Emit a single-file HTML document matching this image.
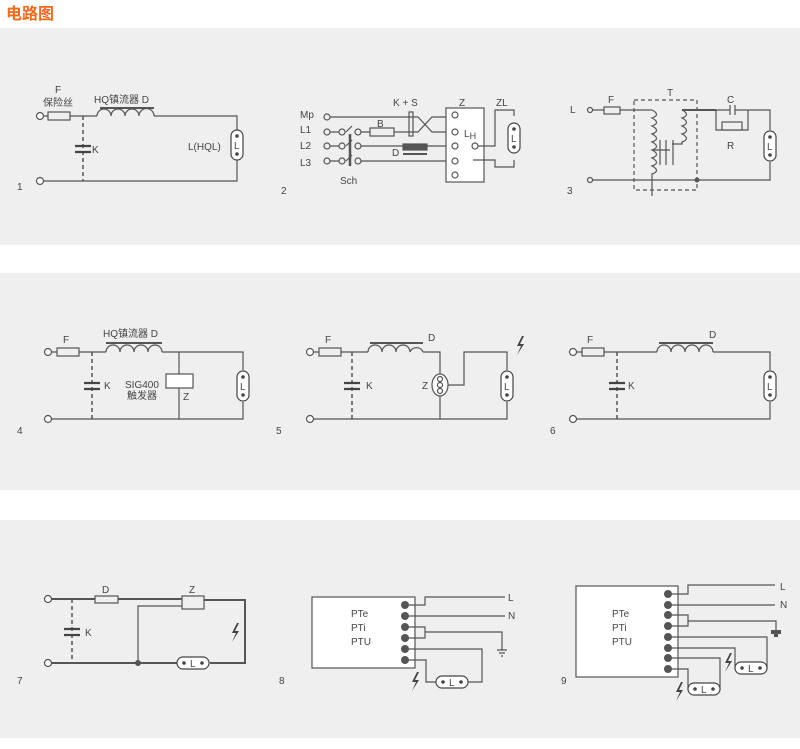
<!DOCTYPE html>
<html><head><meta charset="utf-8"><style>
body{margin:0;width:800px;height:749px;background:#fff;overflow:hidden}
svg{display:block}
text{font-family:"Liberation Sans","Noto Sans CJK SC",sans-serif;fill:#444;font-size:10px}
</style></head><body>
<svg width="800" height="749" viewBox="0 0 800 749" xmlns="http://www.w3.org/2000/svg">
<defs>
<g id="lampv"><rect x="-6" y="-15" width="12" height="30" rx="6" fill="#fff" stroke="#444" stroke-width="1.2"/><circle cx="0" cy="-9" r="1.8" fill="#444"/><circle cx="0" cy="9" r="1.8" fill="#444"/><text x="-3" y="4" font-size="10">L</text></g>
<g id="lamph"><rect x="-16" y="-6" width="32" height="12" rx="6" fill="#fff" stroke="#444" stroke-width="1.2"/><circle cx="-9" cy="0" r="1.8" fill="#444"/><circle cx="9" cy="0" r="1.8" fill="#444"/><text x="-3" y="4" font-size="10">L</text></g>
<g id="bolt"><path d="M2,-9 L-3,1 L1,1 L-3,10 L4,-1 L0,-1 L4,-9Z" fill="#444"/></g>
<g id="cap"><path d="M-8,-3 H8 M-8,3 H8" stroke="#444" stroke-width="2.2"/></g>
</defs>
<text x="6" y="19" style="fill:#f26a1b;font-size:16px;font-weight:bold">电路图</text>
<rect x="0" y="28" width="800" height="217" fill="#efefef"/>
<rect x="0" y="273" width="800" height="217" fill="#efefef"/>
<rect x="0" y="520" width="800" height="218" fill="#efefef"/>
<g fill="none" stroke="#555" stroke-width="1.2">
<circle cx="40" cy="116" r="3.5" fill="#fff"/><circle cx="40" cy="181" r="3.5" fill="#fff"/>
<rect x="48" y="112" width="22" height="8"/>
<path d="M44,116H48M70,116H97M154,116H237V130M237,160V181H44"/>
<path d="M97,116a7,7 0 0 1 14,0a7,7 0 0 1 14,0a7,7 0 0 1 14,0a7,7 0 0 1 15,0"/>
<path d="M100,108H154" stroke-width="2"/>
<path d="M83,116V181" stroke-dasharray="4,3" stroke-width="1.5"/>
<circle cx="327" cy="117" r="3"/><circle cx="327" cy="132" r="3"/><circle cx="342" cy="132" r="3"/><circle cx="358" cy="132" r="3"/>
<circle cx="327" cy="146" r="3"/><circle cx="342" cy="146" r="3"/><circle cx="358" cy="146" r="3"/>
<circle cx="327" cy="161" r="3"/><circle cx="342" cy="161" r="3"/><circle cx="358" cy="161" r="3"/>
<path d="M330,132H339M330,146H339M330,161H339"/>
<path d="M346,132L352,126M346,146L352,140M346,161L352,155" />
<path d="M350,134V166" stroke-width="2.5"/>
<path d="M330,117H418L432,132H452M361,132H370M394,132H418L432,117H452M361,146H452M361,161H452"/>
<rect x="370" y="128" width="24" height="8"/>
<rect x="409" y="112" width="4" height="24"/>
<rect x="403" y="144" width="24" height="6" fill="#555"/><path d="M403,154H427" stroke-width="2"/>
<rect x="446" y="108" width="38" height="74" fill="#fff"/>
<circle cx="455" cy="115" r="3"/><circle cx="455" cy="132" r="3"/><circle cx="455" cy="146" r="3"/><circle cx="455" cy="161" r="3"/><circle cx="455" cy="175" r="3"/><circle cx="475" cy="146" r="3"/>
<path d="M478,146H495V110H514V116M473,160H495V167H514V160"/>
<circle cx="590" cy="110" r="2.5"/><circle cx="590" cy="180" r="2.5"/>
<rect x="604" y="107" width="16" height="7"/>
<path d="M593,110H604M620,110H652M592,180H770V162M770,130V110H748"/>
<path d="M652,110c6,3 6,6 0,8c6,3 6,6 0,8c6,3 6,6 0,8c6,3 6,6 0,8c6,3 6,6 0,8c6,3 6,6 0,8c6,3 6,6 0,8c6,3 6,6 0,8v22"/>
<path d="M652,150H670M660,140V165M666,140V165M673,140V165"/>
<path d="M682,110c6,3 6,6 0,8c6,3 6,6 0,8c6,3 6,6 0,8c6,3 6,6 0,8v2H672"/>
<path d="M682,110H716" stroke-width="2"/>
<path d="M716,110V130H748V110M716,110H730M735,110H748M730,105V115M735,105V115"/>
<rect x="722" y="122" width="20" height="8" fill="#efefef"/>
<rect x="634" y="100" width="63" height="90" stroke-dasharray="4,3"/>
</g>
<circle cx="697" cy="180" r="2.5" fill="#555"/>
<use href="#lampv" x="237" y="145"/><use href="#lampv" x="514" y="138"/><use href="#lampv" x="770" y="146"/>
<use href="#cap" x="83" y="149"/>
<g>
<text x="55" y="93">F</text><text x="43" y="106">保险丝</text><text x="94" y="103">HQ镇流器  D</text><text x="92" y="153">K</text><text x="188" y="150">L(HQL)</text><text x="17" y="190">1</text>
<text x="300" y="118">Mp</text><text x="300" y="133">L1</text><text x="300" y="149">L2</text><text x="300" y="166">L3</text><text x="340" y="184">Sch</text><text x="281" y="194">2</text>
<text x="393" y="106">K + S</text><text x="377" y="127">B</text><text x="392" y="156" font-size="11">D</text><text x="459" y="106">Z</text><text x="496" y="106">ZL</text><text x="464" y="137">L<tspan font-size="9" dy="2">H</tspan></text>
<text x="570" y="113">L</text><text x="608" y="103">F</text><text x="667" y="96">T</text><text x="727" y="103">C</text><text x="727" y="149">R</text><text x="567" y="194">3</text>
</g>
<g fill="none" stroke="#555" stroke-width="1.2">
<circle cx="48" cy="352" r="3.5" fill="#fff"/><circle cx="48" cy="419" r="3.5" fill="#fff"/>
<rect x="57" y="348" width="22" height="8"/>
<path d="M52,352H57M79,352H106M162,352H243V370M243,402V419H52M179,352V419"/>
<path d="M106,352a7,7 0 0 1 14,0a7,7 0 0 1 14,0a7,7 0 0 1 14,0a7,7 0 0 1 14,0"/>
<path d="M106,343H162" stroke-width="2"/>
<path d="M92,352V419" stroke-dasharray="4,3" stroke-width="1.5"/>
<rect x="166" y="374" width="27" height="14" fill="#fff"/>
<circle cx="310" cy="352" r="3.5" fill="#fff"/><circle cx="310" cy="419" r="3.5" fill="#fff"/>
<rect x="319" y="348" width="22" height="8"/>
<path d="M314,352H319M341,352H368M423,352H440V375M440,395V419M314,419H507V402M507,370V352H464V385H444"/>
<path d="M368,352a7,7 0 0 1 14,0a7,7 0 0 1 14,0a7,7 0 0 1 14,0a7,7 0 0 1 13,0"/>
<path d="M370,343H423" stroke-width="2"/>
<path d="M352,352V419" stroke-dasharray="4,3" stroke-width="1.5"/>
<ellipse cx="440" cy="385" rx="8" ry="11" fill="#fff"/><circle cx="440" cy="379" r="2.5"/><circle cx="440" cy="385" r="2.5"/><circle cx="440" cy="391" r="2.5"/>
<circle cx="573" cy="352" r="3.5" fill="#fff"/><circle cx="573" cy="419" r="3.5" fill="#fff"/>
<rect x="582" y="348" width="22" height="8"/>
<path d="M577,352H582M604,352H657M713,352H770V370M770,402V419H577"/>
<path d="M657,352a7,7 0 0 1 14,0a7,7 0 0 1 14,0a7,7 0 0 1 14,0a7,7 0 0 1 14,0"/>
<path d="M659,343H713" stroke-width="2"/>
<path d="M617,352V419" stroke-dasharray="4,3" stroke-width="1.5"/>
</g>
<use href="#lampv" x="243" y="386"/><use href="#lampv" x="507" y="386"/><use href="#lampv" x="770" y="386"/>
<use href="#cap" x="92" y="386"/><use href="#cap" x="352" y="386"/><use href="#cap" x="617" y="386"/>
<use href="#bolt" x="520" y="345"/>
<g>
<text x="63" y="343">F</text><text x="103" y="337">HQ镇流器  D</text><text x="104" y="389">K</text><text x="125" y="388">SIG400</text><text x="127" y="399">触发器</text><text x="183" y="400">Z</text><text x="17" y="434">4</text>
<text x="325" y="343">F</text><text x="428" y="341">D</text><text x="366" y="389">K</text><text x="422" y="389">Z</text><text x="276" y="434">5</text>
<text x="587" y="343">F</text><text x="709" y="338">D</text><text x="628" y="389">K</text><text x="550" y="434">6</text>
</g>
<g fill="none" stroke="#555" stroke-width="1.2">
<circle cx="48" cy="599" r="3.5" fill="#fff"/><circle cx="48" cy="663" r="3.5" fill="#fff"/>
<path d="M52,599H95M118,599H182M52,663H177M210,663H245V600H204" stroke-width="2"/>
<rect x="95" y="596" width="23" height="7"/>
<rect x="182" y="596" width="22" height="13" fill="#efefef"/>
<path d="M182,606H138V663"/>
<path d="M72,599V663" stroke-dasharray="4,3" stroke-width="1.5"/>
<rect x="312" y="597" width="103" height="71" fill="#fff"/>
<path d="M405,605H425V597H505M405,616H505M405,627H425V638H405M425,632H502V650M405,649H482V682H468M405,660H426V682H437"/>
<path d="M497,650H507M499,653H505M501,656H503"/>
<rect x="576" y="586" width="102" height="91" fill="#fff"/>
<path d="M668,594H688V585H775M668,605H775M668,615H688V626H668M688,621H776V630M668,637H767V668H765M668,648H735V668H737M668,658H720V689H718M668,669H688V689H690"/>
</g>
<rect x="771" y="630" width="10" height="4" fill="#555"/><rect x="774" y="634" width="4" height="3" fill="#555"/>
<circle cx="138" cy="663" r="3" fill="#555"/>
<g fill="#555"><circle cx="405" cy="605" r="4"/><circle cx="405" cy="616" r="4"/><circle cx="405" cy="627" r="4"/><circle cx="405" cy="638" r="4"/><circle cx="405" cy="649" r="4"/><circle cx="405" cy="660" r="4"/>
<circle cx="668" cy="594" r="4"/><circle cx="668" cy="605" r="4"/><circle cx="668" cy="615" r="4"/><circle cx="668" cy="626" r="4"/><circle cx="668" cy="637" r="4"/><circle cx="668" cy="648" r="4"/><circle cx="668" cy="658" r="4"/><circle cx="668" cy="669" r="4"/></g>
<use href="#lamph" x="193" y="663"/><use href="#lamph" x="452" y="682"/><use href="#lamph" x="751" y="668"/><use href="#lamph" x="704" y="689"/>
<use href="#cap" x="72" y="632"/>
<use href="#bolt" x="235" y="632"/><use href="#bolt" x="415" y="681"/><use href="#bolt" x="728" y="662"/><use href="#bolt" x="679" y="691"/>
<g>
<text x="102" y="593">D</text><text x="189" y="593">Z</text><text x="85" y="636">K</text><text x="17" y="684">7</text>
<text x="351" y="617">PTe</text><text x="351" y="631">PTi</text><text x="351" y="645">PTU</text><text x="508" y="601">L</text><text x="508" y="619">N</text><text x="279" y="684">8</text>
<text x="612" y="617">PTe</text><text x="612" y="631">PTi</text><text x="612" y="645">PTU</text><text x="780" y="590">L</text><text x="780" y="608">N</text><text x="561" y="684">9</text>
</g>
</svg>
</body></html>
